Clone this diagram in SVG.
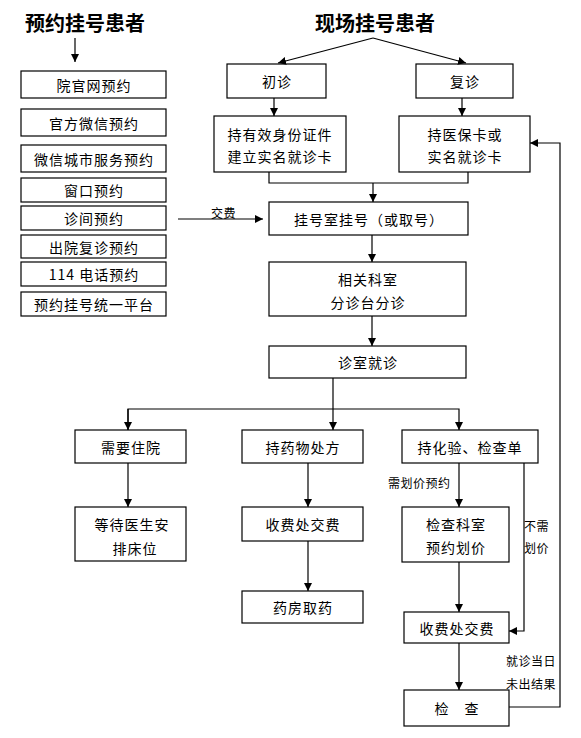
<svg xmlns="http://www.w3.org/2000/svg" width="581" height="738" viewBox="0 0 581 738">
<defs>
<marker id="ah" viewBox="0 0 10 10" refX="10" refY="5" markerWidth="8" markerHeight="8" markerUnits="userSpaceOnUse" orient="auto"><path d="M0,0 L10,5 L0,10 z" fill="#000"/></marker>
<style>
.b{fill:#fff;stroke:#000;stroke-width:1.2}
.t{font-family:"Noto Sans CJK SC","Noto Sans",sans-serif;font-size:14px;fill:#000;text-anchor:middle;dominant-baseline:central;letter-spacing:1px}
.s{font-family:"Noto Sans CJK SC","Noto Sans",sans-serif;font-size:12px;fill:#000;dominant-baseline:central;letter-spacing:0.5px}
.h{font-family:"Noto Sans CJK SC","Noto Sans",sans-serif;font-size:20px;font-weight:bold;fill:#000;dominant-baseline:central}
.c{fill:none;stroke:#000;stroke-width:1.2}
</style>
</defs>
<rect width="581" height="738" fill="#fff"/>
<text class="h" x="25" y="22">预约挂号患者</text>
<text class="h" x="315" y="22">现场挂号患者</text>

<g id="n-web"><rect class="b" x="21" y="71" width="145" height="27"/><text class="t" x="94" y="84.5">院官网预约</text></g>
<g id="n-wechat"><rect class="b" x="21" y="109" width="145" height="27"/><text class="t" x="94" y="122.5">官方微信预约</text></g>
<g id="n-city"><rect class="b" x="21" y="145" width="145" height="27"/><text class="t" x="94" y="158.5">微信城市服务预约</text></g>
<g id="n-window"><rect class="b" x="21" y="178" width="145" height="24"/><text class="t" x="94" y="190">窗口预约</text></g>
<g id="n-clinic"><rect class="b" x="21" y="206" width="145" height="24"/><text class="t" x="94" y="218">诊间预约</text></g>
<g id="n-discharge"><rect class="b" x="21" y="235" width="145" height="23"/><text class="t" x="94" y="246.5">出院复诊预约</text></g>
<g id="n-114"><rect class="b" x="21" y="262" width="145" height="24"/><text class="t" x="94" y="274">114 电话预约</text></g>
<g id="n-platform"><rect class="b" x="21" y="292" width="145" height="24"/><text class="t" x="94" y="304">预约挂号统一平台</text></g>

<g id="n-first"><rect class="b" x="227" y="64" width="99" height="34"/><text class="t" x="277" y="81">初诊</text></g>
<g id="n-return"><rect class="b" x="416" y="64" width="97" height="34"/><text class="t" x="465" y="81">复诊</text></g>
<g id="n-id"><rect class="b" x="214" y="116" width="132" height="56"/><text class="t" x="280" y="134">持有效身份证件</text><text class="t" x="280" y="156">建立实名就诊卡</text></g>
<g id="n-card"><rect class="b" x="399" y="116" width="131" height="56"/><text class="t" x="465" y="134">持医保卡或</text><text class="t" x="465" y="156">实名就诊卡</text></g>
<g id="n-reg"><rect class="b" x="269" y="202" width="199" height="33"/><text class="t" x="369" y="218.5">挂号室挂号（或取号）</text></g>
<g id="n-triage"><rect class="b" x="269" y="262" width="197" height="54"/><text class="t" x="368" y="279">相关科室</text><text class="t" x="368" y="302">分诊台分诊</text></g>
<g id="n-visit"><rect class="b" x="269" y="346" width="197" height="32"/><text class="t" x="368" y="362">诊室就诊</text></g>

<g id="n-hosp"><rect class="b" x="75" y="430" width="111" height="33"/><text class="t" x="131" y="446.5">需要住院</text></g>
<g id="n-bed"><rect class="b" x="75" y="507" width="111" height="54"/><text class="t" x="132" y="524">等待医生安</text><text class="t" x="135" y="548">排床位</text></g>
<g id="n-rx"><rect class="b" x="242" y="430" width="121" height="33"/><text class="t" x="303" y="446.5">持药物处方</text></g>
<g id="n-pay1"><rect class="b" x="242" y="507" width="121" height="34"/><text class="t" x="303" y="524">收费处交费</text></g>
<g id="n-pharm"><rect class="b" x="242" y="591" width="121" height="32"/><text class="t" x="303" y="607">药房取药</text></g>
<g id="n-lab"><rect class="b" x="402" y="430" width="136" height="33"/><text class="t" x="470" y="446.5">持化验、检查单</text></g>
<g id="n-price"><rect class="b" x="402" y="507" width="107" height="55"/><text class="t" x="456" y="524">检查科室</text><text class="t" x="456" y="547">预约划价</text></g>
<g id="n-pay2"><rect class="b" x="404" y="612" width="105" height="31"/><text class="t" x="457" y="627.5">收费处交费</text></g>
<g id="n-exam"><rect class="b" x="404" y="690" width="105" height="36"/><text class="t" x="457" y="708">检　查</text></g>

<g id="connectors">
<path class="c" d="M75,38 V62" marker-end="url(#ah)"/>
<path class="c" d="M373,38 L278,63" marker-end="url(#ah)"/>
<path class="c" d="M373,38 L466,63" marker-end="url(#ah)"/>
<path class="c" d="M274,98 V116" marker-end="url(#ah)"/>
<path class="c" d="M462,98 V116" marker-end="url(#ah)"/>
<path class="c" d="M269,172 V183 H468 V172"/>
<path class="c" d="M373,183 V202" marker-end="url(#ah)"/>
<path class="c" d="M178,219 H263" marker-end="url(#ah)"/>
<text class="s" x="211" y="212">交费</text>
<path class="c" d="M372,235 V262" marker-end="url(#ah)"/>
<path class="c" d="M372,316 V346" marker-end="url(#ah)"/>
<path class="c" d="M333,378 V430" marker-end="url(#ah)"/>
<path class="c" d="M128,430 V409 H459 V430" marker-end="url(#ah)"/>
<path class="c" d="M128,409 V430" marker-end="url(#ah)"/>
<path class="c" d="M128,463 V507" marker-end="url(#ah)"/>
<path class="c" d="M308,463 V507" marker-end="url(#ah)"/>
<path class="c" d="M308,541 V591" marker-end="url(#ah)"/>
<path class="c" d="M459,463 V507" marker-end="url(#ah)"/>
<text class="s" x="388" y="482">需划价预约</text>
<path class="c" d="M459,562 V612" marker-end="url(#ah)"/>
<path class="c" d="M459,643 V690" marker-end="url(#ah)"/>
<path class="c" d="M524,463 V631 H509" marker-end="url(#ah)"/>
<text class="s" x="524" y="525">不需</text>
<text class="s" x="524" y="547">划价</text>
<path class="c" d="M509,707 H560 V143 H530" marker-end="url(#ah)"/>
<text class="s" x="506" y="660">就诊当日</text>
<text class="s" x="506" y="683">未出结果</text>
</g>
</svg>
